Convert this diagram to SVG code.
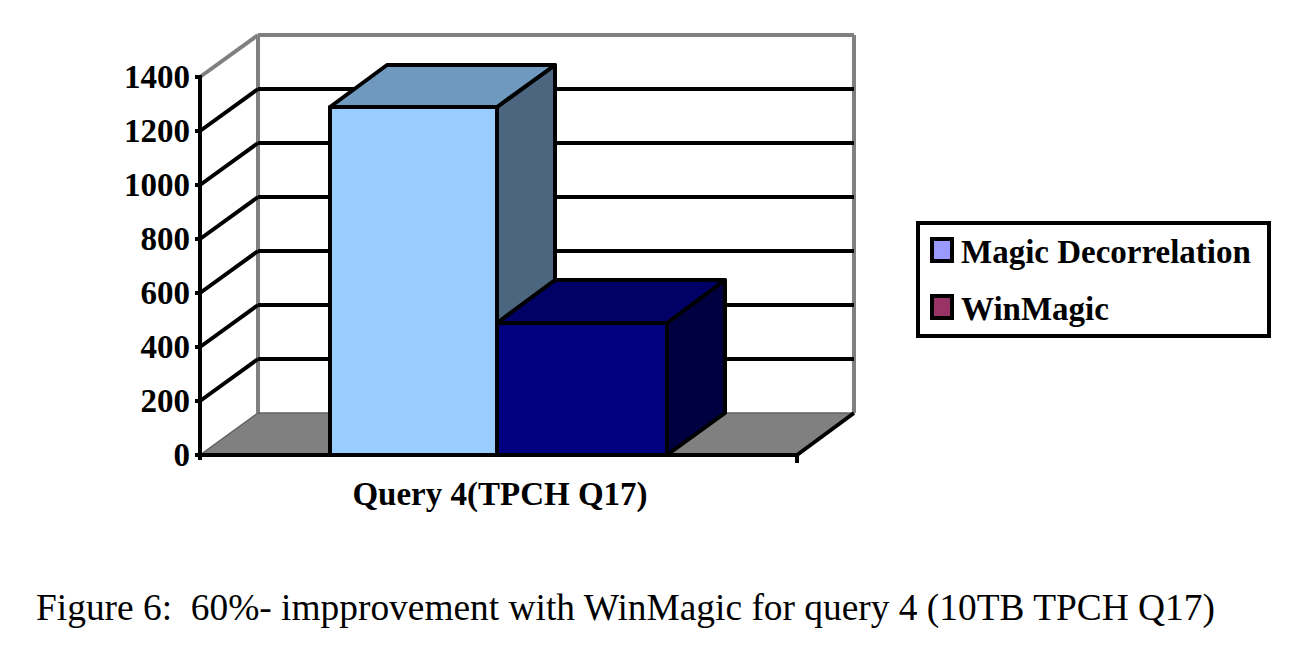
<svg xmlns="http://www.w3.org/2000/svg" width="1304" height="660" viewBox="0 0 1304 660">
<style>
.grid{stroke:#000;stroke-width:4;fill:none}
.wall{stroke:#808080;stroke-width:4;fill:none}
.edge{stroke:#000;stroke-width:4;stroke-linejoin:round}
.lbl{font-family:"Liberation Serif",serif;font-weight:bold;font-size:33px;fill:#000}
.leg{font-family:"Liberation Serif",serif;font-weight:bold;font-size:33px;fill:#000}
.cap{font-family:"Liberation Serif",serif;font-size:37.4px;fill:#000}
</style>
<rect width="1304" height="660" fill="#fff"/>
<g id="chart-frame">
<polygon points="200,455 258,413 854,413 797,455" fill="#808080"/>
<line class="wall" x1="258" y1="35" x2="854" y2="35"/>
<line class="wall" x1="258" y1="35" x2="258" y2="413"/>
<line class="wall" x1="854" y1="35" x2="854" y2="413"/>
<line class="wall" x1="200" y1="77" x2="258" y2="35"/>
<line stroke="#606060" stroke-width="1.5" x1="258" y1="413" x2="200" y2="455"/>
<line stroke="#606060" stroke-width="1.5" x1="258" y1="413" x2="854" y2="413"/>
</g>
<g id="gridlines">
<path class="grid" d="M258,89H854M258,143H854M258,197H854M258,251H854M258,305H854M258,359H854"/>
<path class="grid" d="M200,131L258,89M200,185L258,143M200,239L258,197M200,293L258,251M200,347L258,305M200,401L258,359"/>
</g>
<g id="axis">
<line class="grid" x1="200" y1="75" x2="200" y2="460"/>
<path class="grid" d="M195,77H202M195,131H202M195,185H202M195,239H202M195,293H202M195,347H202M195,401H202M195,455H202"/>
<line class="grid" x1="198" y1="455" x2="797" y2="455"/>
<line class="grid" x1="797" y1="455" x2="854" y2="413"/>
<line class="grid" x1="797" y1="455" x2="797" y2="463"/>
<g class="lbl" text-anchor="end">
<text x="190" y="88">1400</text>
<text x="190" y="142">1200</text>
<text x="190" y="196">1000</text>
<text x="190" y="250">800</text>
<text x="190" y="304">600</text>
<text x="190" y="358">400</text>
<text x="190" y="412">200</text>
<text x="190" y="466">0</text>
</g>
<text class="lbl" x="500" y="505" text-anchor="middle">Query 4(TPCH Q17)</text>
</g>
<g id="bar-magic-decorrelation">
<polygon class="edge" points="497,107 555,65 555,413 497,455" fill="#4D6680"/>
<polygon class="edge" points="330,107 497,107 555,65 387,65" fill="#7099BF"/>
<rect class="edge" x="330" y="107" width="167" height="348" fill="#99CCFF"/>
</g>
<g id="bar-winmagic">
<polygon class="edge" points="667,323 725,280 725,413 667,455" fill="#000040"/>
<polygon class="edge" points="497,323 667,323 725,280 555,280" fill="#000066"/>
<rect class="edge" x="497" y="323" width="170" height="132" fill="#000080"/>
</g>
<g id="legend">
<rect x="918" y="223" width="351" height="113" fill="#fff" stroke="#000" stroke-width="4"/>
<rect x="932" y="239" width="20" height="22" fill="#9999FF" stroke="#000" stroke-width="4"/>
<rect x="932" y="296" width="20" height="22" fill="#993366" stroke="#000" stroke-width="4"/>
<text class="leg" x="961" y="263">Magic Decorrelation</text>
<text class="leg" x="961" y="320">WinMagic</text>
</g>
<text class="cap" x="36" y="620" xml:space="preserve">Figure 6:  60%- impprovement with WinMagic for query 4 (10TB TPCH Q17)</text>
</svg>
